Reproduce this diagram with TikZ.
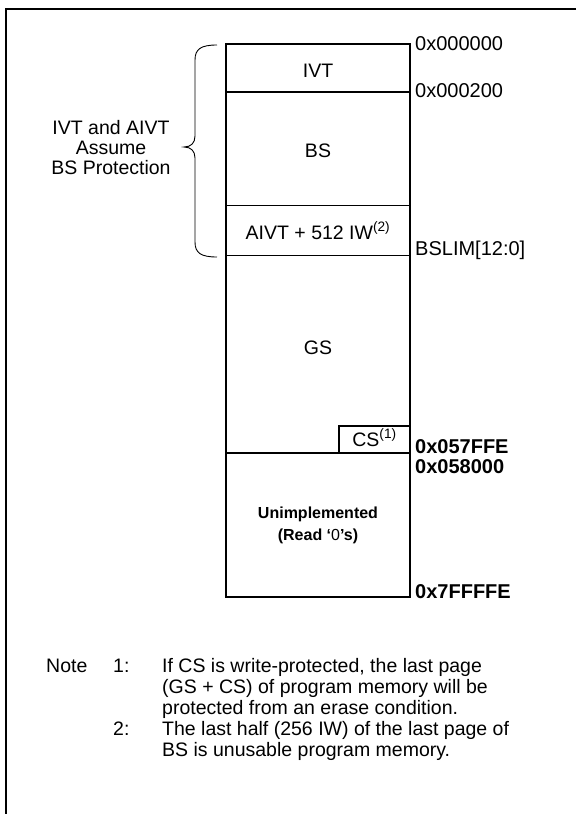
\documentclass[tikz,border=0pt]{standalone}
\usepackage{fontspec}
\setmainfont{Liberation Sans}
\begin{document}
\begin{tikzpicture}[x=1pt,y=-1pt,
  memline/.style={line width=1.6pt},
  thinline/.style={line width=0.8pt},
  frameline/.style={line width=2pt},
  lbl/.style={font=\fontsize{19.5}{22}\selectfont, inner sep=0pt},
  boxtxt/.style={lbl, anchor=base},
  addr/.style={lbl, anchor=base west, font=\fontsize{20}{22}\selectfont},
  baddr/.style={addr, font=\bfseries\fontsize{20}{22}\selectfont},
  unimp/.style={boxtxt, font=\bfseries\fontsize{16}{19}\selectfont},
  notetxt/.style={lbl, anchor=base west},
  bracepath/.style={line width=0.9pt}
]
\useasboundingbox (0,0) rectangle (576,814);
% outer frame (only top and left visible)
\draw[frameline] (576,9) -- (6,9) -- (6,814);
% memory map
\coordinate (tl) at (226,44);
\coordinate (br) at (410,597);
\draw[memline] (tl) rectangle (br);
\coordinate (l1) at (226,92);   \coordinate (r1) at (410,92);
\coordinate (l2) at (226,205.5);\coordinate (r2) at (410,205.5);
\coordinate (l3) at (226,255.5);\coordinate (r3) at (410,255.5);
\coordinate (l4) at (226,453);  \coordinate (r4) at (410,453);
\draw[memline] (l1) -- (r1);
\draw[memline] (l2) -- (r2);
\draw[thinline] (l3) -- (r3);
\draw[memline] (l4) -- (r4);
\coordinate (csb) at (339,453); \coordinate (cst) at (339,426); \coordinate (csr) at (410,426);
\draw[memline] (csb) -- (cst) -- (csr);
% region texts
\node[boxtxt] (ivt) at (318,77) {IVT};
\node[boxtxt] (bs) at (318,157) {BS};
\node[boxtxt] (aivt) at (318,239) {AIVT + 512 IW\textsuperscript{(2)}};
\node[boxtxt] (gs) at (318,354) {GS};
\node[boxtxt] (cs) at (374.5,446.5) {CS\textsuperscript{(1)}};
\node[unimp] (un1) at (318,518.7) {Unimplemented};
\node[unimp] (un2) at (318,540.7) {(Read ‘{\mdseries 0}’s)};
% addresses
\node[addr] (a0) at (415,50) {0x000000};
\node[addr] (a1) at (415,97) {0x000200};
\node[addr] (a2) at (415,255) {BSLIM[12:0]};
\node[baddr] (a3) at (415,453) {0x057FFE};
\node[baddr] (a4) at (415,473) {0x058000};
\node[baddr] (a5) at (415,598) {0x7FFFFE};
% brace
\coordinate (btop) at (217,45);
\coordinate (bbot) at (217,257);
\coordinate (btip) at (184,147);
\draw[bracepath] (btop) .. controls (201,45) and (195,49) .. (195,60)
  -- (195,136) .. controls (195,143) and (191,147) .. (btip)
  .. controls (191,147) and (195,151) .. (195,158)
  -- (195,242) .. controls (195,253) and (201,257) .. (bbot);
\node[boxtxt] (p1) at (111,134.8) {IVT and AIVT};
\node[boxtxt] (p2) at (111,154.8) {Assume};
\node[boxtxt] (p3) at (111,174.8) {BS Protection};
% notes
\node[notetxt] (note) at (46,672) {Note};
\node[notetxt] (n1) at (113,672) {1:};
\node[notetxt] (t11) at (162,672) {If CS is write-protected, the last page};
\node[notetxt] (t12) at (162,693) {(GS + CS) of program memory will be};
\node[notetxt] (t13) at (162,714) {protected from an erase condition.};
\node[notetxt] (n2) at (113,735) {2:};
\node[notetxt] (t21) at (162,735) {The last half (256 IW) of the last page of};
\node[notetxt] (t22) at (162,756) {BS is unusable program memory.};
\end{tikzpicture}
\end{document}
